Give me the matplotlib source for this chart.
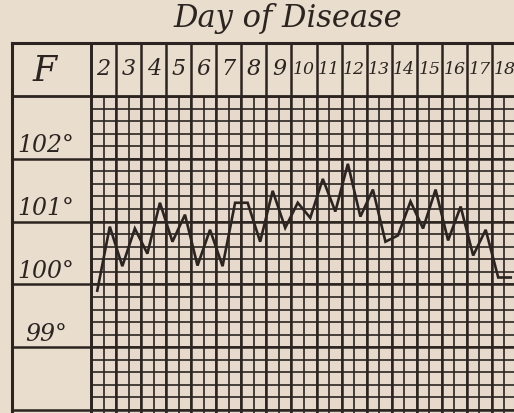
import matplotlib
matplotlib.use('Agg')
import matplotlib.pyplot as plt
import numpy as np
from matplotlib.transforms import blended_transform_factory as btf

# ---- data ----
title = 'Day of Disease'
scale_label = 'F'
days = list(range(2, 19))
day_labels = [str(d) for d in days]
# two readings per day (morning / evening), degrees Fahrenheit
temps = [99.90, 100.92, 100.29, 100.89, 100.49, 101.30, 100.68, 101.11,
         100.30, 100.87, 100.29, 101.30, 101.30, 100.68, 101.49, 100.90,
         101.30, 101.06, 101.68, 101.16, 101.92, 101.08, 101.51, 100.68,
         100.78, 101.32, 100.89, 101.51, 100.70, 101.24, 100.46, 100.87,
         100.11, 100.11]
deg_ticks = [99, 100, 101, 102]
deg_labels = ['99°', '100°', '101°', '102°']

# ---- style ----
BG = '#e9decd'
CELL = '#e7d9cb'
INK = '#2b2420'
W, H = 514, 413
px_per_sub = 12.53
px_per_deg = 62.8
x0 = 91      # left edge of grid (px)
y103 = 96    # 103 degree line (px from top)
y_top = 43   # top frame (px from top)
x_left = 12  # left frame (px)

fig = plt.figure(figsize=(W / 100, H / 100), dpi=100)
fig.patch.set_facecolor(BG)
ax = fig.add_axes([x0 / W, 0, (W - x0) / W, (H - y103) / H])
ax.set_facecolor(CELL)
for s in ax.spines.values():
    s.set_visible(False)
ax.set_xticks([])
ax.set_yticks([])
xmax = (W - x0) / px_per_sub
ymin = 103 - (H - y103) / px_per_deg
ax.set_xlim(0, xmax)
ax.set_ylim(ymin, 103)
t_top = 103 + (y103 - y_top) / px_per_deg
t_bottom_frame = 98 + 2 / px_per_deg

n_sub = 2 * len(days)
# grid: minor lines
ax.vlines(np.arange(0, n_sub + 1), ymin, 103, color=INK, lw=1.2, zorder=1)
ax.hlines(np.arange(98, 103.01, 0.2), 0, xmax, color=INK, lw=1.2, zorder=1)
# day lines extend through header
ax.vlines(np.arange(0, n_sub + 1, 2), ymin, t_top, color=INK, lw=1.8,
          zorder=2, clip_on=False)
# degree lines
ax.hlines(np.arange(98, 104), 0, xmax, color=INK, lw=1.8, zorder=2)

ft = btf(fig.transFigure, ax.transData)
# label column degree lines & header bottom & top frame
for d in [98, 99, 100, 101, 102]:
    ax.plot([x_left / W, x0 / W], [d, d], transform=ft, color=INK, lw=1.8,
            clip_on=False, solid_capstyle='butt')
ax.plot([x_left / W, 1], [103, 103], transform=ft, color=INK, lw=2.0,
        clip_on=False)
ax.plot([x_left / W, 1], [t_top, t_top], transform=ft, color=INK, lw=2.2,
        clip_on=False)
ax.plot([x_left / W, x_left / W], [t_bottom_frame - 0.05, t_top], transform=ft,
        color=INK, lw=2.2, clip_on=False)
ax.plot([x0 / W, x0 / W], [ymin, t_top], transform=ft, color=INK, lw=2.0,
        clip_on=False)

# temperature curve
xs = np.arange(len(temps)) + 0.5
ax.plot(xs, temps, color=INK, lw=1.9, zorder=5, solid_joinstyle='miter')

# texts
fig.text(288 / W, 1 - 19 / H, title, ha='center', va='center',
         fontsize=22, family='DejaVu Serif', style='italic', color=INK)
fig.text(45 / W, 1 - 71 / H, scale_label, ha='center', va='center',
         fontsize=25, family='DejaVu Serif', style='italic', color=INK)
t_head = 103 + (y103 - 69) / px_per_deg
for i, lab in enumerate(day_labels):
    ax.text(2 * i + 1, t_head, lab, ha='center', va='center',
            fontsize=16 if len(lab) == 1 else 12.5, family='DejaVu Serif',
            style='italic', color=INK, clip_on=False)
for d, lab in zip(deg_ticks, deg_labels):
    ax.text(46 / W, d + 1.5 / px_per_deg, lab, transform=ft, ha='center',
            va='bottom', fontsize=17, family='DejaVu Serif', style='italic',
            color=INK, clip_on=False)

fig.savefig('out.png', dpi=100, facecolor=BG)
